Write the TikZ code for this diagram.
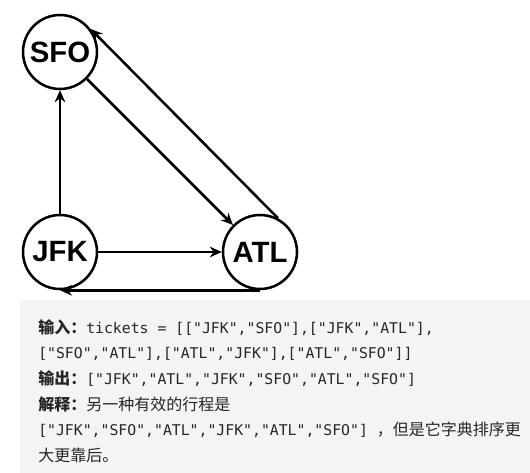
\documentclass[tikz,border=0pt]{standalone}
\usepackage{fontspec}
\usepackage{xcolor}
\usepackage{tikz}
\usetikzlibrary{arrows.meta}
\newfontfamily\airportfont{Liberation Sans}
\newfontfamily\codefont{DejaVu Sans Mono}
\newfontfamily\cjk{Noto Sans CJK SC}
\newcommand{\codetext}[1]{{\codefont\fontsize{11.1}{19.2}\selectfont #1}}
\newcommand{\codegap}{\hspace{0.602em}}
\definecolor{boxgray}{HTML}{F3F4F6}
\definecolor{textdark}{HTML}{262626}

\begin{document}
\begin{tikzpicture}[x=0.75pt, y=-0.75pt,
    airport/.style={circle, draw, line width=1.9pt, minimum size=55.5pt, inner sep=0pt, font=\airportfont\bfseries\fontsize{22}{26}\selectfont},
    flight/.style={-{Stealth[length=9pt, width=8pt, inset=3pt]}, line width=1.9pt}]
    \useasboundingbox (0,0) rectangle (530,473);
    \node(SFO) [airport] at (60,52) {SFO};
    \node(JFK) [airport] at (60,252) {JFK};
    \node(ATL) [airport] at (260,252) {ATL};
    \draw[flight] (JFK) -- (SFO);
    \draw[flight] (JFK) -- (ATL);
    \draw[flight] (SFO) -- (ATL);
    \draw[flight] (ATL.62) -- (SFO.37);
    \draw[flight] (ATL.south) -- (JFK.south);
    \node(box) [rectangle, fill=boxgray, anchor=north west, inner sep=0pt, minimum width=382.5pt, minimum height=129.75pt] at (20,300) {};
    \node(explain) [anchor=north west, inner sep=0pt, text width=369pt, align=left, text=textdark, font=\cjk\fontsize{12}{19.2}\selectfont] at (38,317) {
        \rule{0pt}{12pt}{\bfseries 输入：}\codetext{tickets\codegap=\codegap[["JFK","SFO"],["JFK","ATL"],}\\
        \codetext{["SFO","ATL"],["ATL","JFK"],["ATL","SFO"]]}\\
        {\bfseries 输出：}\codetext{["JFK","ATL","JFK","SFO","ATL","SFO"]}\\
        {\bfseries 解释：}另一种有效的行程是\\
        \codetext{["JFK","SFO","ATL","JFK","ATL","SFO"]\codegap}，但是它字典排序更\\
        大更靠后。
    };
\end{tikzpicture}
\end{document}
